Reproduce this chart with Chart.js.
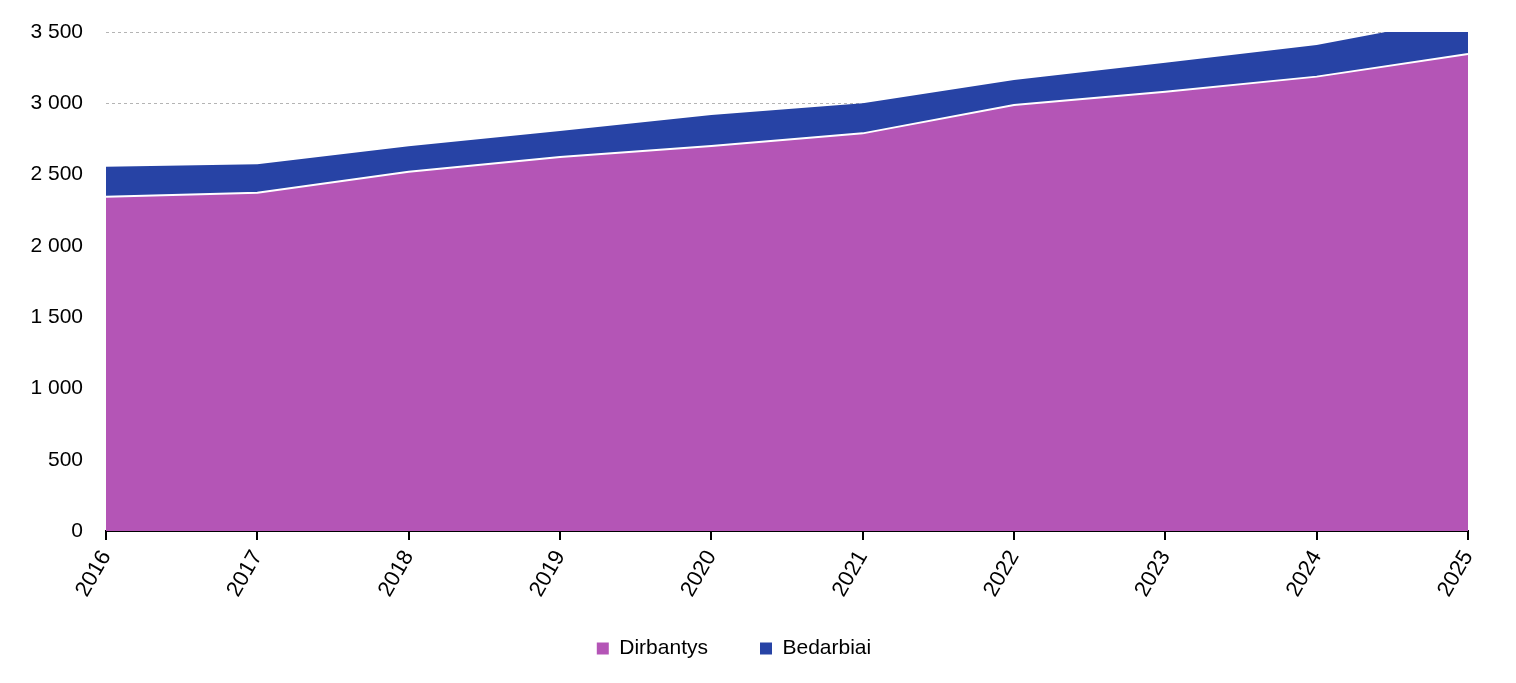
<!DOCTYPE html>
<html>
<head>
<meta charset="utf-8">
<script src="https://cdn.jsdelivr.net/npm/chart.js@4/dist/chart.umd.min.js"></script>
<style>
  html, body { margin: 0; padding: 0; background: #ffffff; }
  #wrap { width: 1516px; height: 683px; }
</style>
</head>
<body>
<div id="wrap"><canvas id="c" width="1516" height="683"></canvas></div>
<script>
const years = ['2016','2017','2018','2019','2020','2021','2022','2023','2024','2025'];
const dirbantys = [2345, 2373, 2520, 2623, 2700, 2789, 2988, 3081, 3187, 3346];
const bedarbiai = [210, 199, 179, 183, 218, 211, 175, 204, 222, 263];
const yTicks = [0, 500, 1000, 1500, 2000, 2500, 3000, 3500];

const fmt = v => String(v).replace(/\B(?=(\d{3})+(?!\d))/g, ' ');

new Chart(document.getElementById('c'), {
  type: 'line',
  data: {
    labels: years,
    datasets: [
      {
        label: 'Dirbantys',
        data: dirbantys,
        backgroundColor: '#b455b6',
        borderColor: '#ffffff',
        borderWidth: 2,
        fill: 'origin',
        pointRadius: 0,
        tension: 0
      },
      {
        label: 'Bedarbiai',
        data: bedarbiai,
        backgroundColor: '#2743a5',
        borderColor: '#2743a5',
        borderWidth: 0,
        fill: '-1',
        pointRadius: 0,
        tension: 0
      }
    ]
  },
  options: {
    responsive: false,
    animation: false,
    layout: { padding: { left: 0, right: 48, top: 32, bottom: 14 } },
    plugins: {
      tooltip: { enabled: false },
      legend: {
        position: 'bottom',
        labels: {
          boxWidth: 12,
          boxHeight: 12,
          padding: 52,
          color: '#000000',
          font: { family: 'Liberation Sans, Arial, sans-serif', size: 21 },
          generateLabels: chart => chart.data.datasets.map((ds, i) => ({
            text: ds.label,
            fillStyle: ds.backgroundColor,
            strokeStyle: ds.backgroundColor,
            lineWidth: 0,
            hidden: false,
            datasetIndex: i,
            fontColor: '#000000'
          }))
        }
      }
    },
    scales: {
      x: {
        type: 'category',
        offset: false,
        afterFit: s => { s.height = 55; s._computeLabelArea = () => undefined; },
        grid: { display: true, drawOnChartArea: false, drawTicks: true, tickLength: 9, color: '#000000', lineWidth: 2 },
        border: { display: true, color: '#000000', width: 2 },
        ticks: {
          color: '#000000',
          maxRotation: 60,
          minRotation: 60,
          padding: 6,
          autoSkip: false,
          font: { family: 'Liberation Sans, Arial, sans-serif', size: 22 }
        }
      },
      y: {
        stacked: true,
        min: 0,
        max: 3500,
        afterFit: s => { s.width = 106; },
        afterBuildTicks: s => { s.ticks = yTicks.map(v => ({ value: v })); },
        grid: { color: '#b4b4b4', lineWidth: 1, drawTicks: true, tickLength: 23, tickColor: 'rgba(0,0,0,0)' },
        border: { display: false, dash: [3, 3] },
        ticks: {
          color: '#000000',
          padding: 0,
          font: { family: 'Liberation Sans, Arial, sans-serif', size: 21 },
          callback: v => fmt(v)
        }
      }
    }
  }
});
</script>
</body>
</html>
